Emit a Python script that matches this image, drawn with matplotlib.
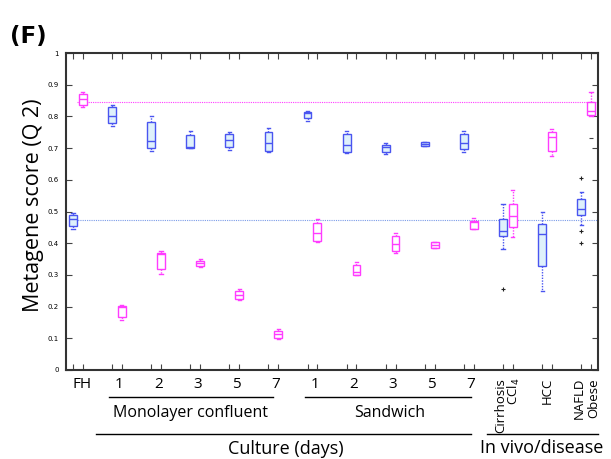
import matplotlib
matplotlib.use("Agg")
import matplotlib.pyplot as plt
from matplotlib.lines import Line2D

# ---- data ----
groups = ["FH", "M1", "M2", "M3", "M5", "M7", "S1", "S2", "S3", "S5", "S7", "Cirr", "HCC", "NAFLD"]
day_labels = ["1", "2", "3", "5", "7"]

blue_whislo = [0.445, 0.770, 0.691, 0.700, 0.694, 0.689, 0.787, 0.684, 0.680, 0.707, 0.689, 0.381, 0.250, 0.457]
blue_q1     = [0.455, 0.780, 0.700, 0.700, 0.702, 0.692, 0.794, 0.689, 0.687, 0.707, 0.696, 0.423, 0.328, 0.489]
blue_med    = [0.475, 0.802, 0.722, 0.702, 0.727, 0.715, 0.812, 0.709, 0.704, 0.714, 0.715, 0.439, 0.428, 0.508]
blue_q3     = [0.490, 0.829, 0.781, 0.740, 0.746, 0.750, 0.815, 0.743, 0.710, 0.720, 0.743, 0.476, 0.460, 0.539]
blue_whishi = [0.495, 0.836, 0.802, 0.753, 0.752, 0.762, 0.817, 0.755, 0.715, 0.720, 0.754, 0.523, 0.499, 0.562]
blue_fliers = [[], [], [], [], [], [], [], [], [], [], [], [0.255], [], [0.605, 0.438, 0.402]]

pink_whislo = [0.829, 0.158, 0.302, 0.325, 0.221, 0.099, 0.403, 0.300, 0.368, 0.385, 0.444, 0.419, 0.676, 0.800]
pink_q1     = [0.836, 0.168, 0.318, 0.327, 0.224, 0.102, 0.408, 0.300, 0.375, 0.385, 0.444, 0.450, 0.691, 0.804]
pink_med    = [0.854, 0.200, 0.365, 0.338, 0.237, 0.113, 0.431, 0.308, 0.396, 0.394, 0.468, 0.486, 0.734, 0.818]
pink_q3     = [0.870, 0.203, 0.370, 0.343, 0.249, 0.123, 0.465, 0.331, 0.423, 0.405, 0.471, 0.523, 0.752, 0.846]
pink_whishi = [0.877, 0.205, 0.375, 0.350, 0.255, 0.128, 0.477, 0.340, 0.431, 0.405, 0.479, 0.568, 0.759, 0.878]
pink_fliers = [[], [], [], [], [], [], [], [], [], [], [], [], [], [0.731]]

ref_pink = 0.846
ref_blue = 0.472

yticks = [0, 0.1, 0.2, 0.3, 0.4, 0.5, 0.6, 0.7, 0.8, 0.9, 1]
ytick_labels = ["0", "0.1", "0.2", "0.3", "0.4", "0.5", "0.6", "0.7", "0.8", "0.9", "1"]

BLUE = "#4a55f0"
BLUE_FILL = "#dff1fb"
PINK = "#ff3cff"

fig = plt.figure(figsize=(6.11, 4.59), dpi=100)
ax = fig.add_axes([66/611, 89/459, 532/611, 317/459])

n = len(groups)
off = 0.25
bpos = [i for i in range(n)]
ppos = [i + off for i in range(n)]

def stats(lo, q1, med, q3, hi, fl):
    return [dict(whislo=a, q1=b, med=c, q3=d, whishi=e, fliers=f)
            for a, b, c, d, e, f in zip(lo, q1, med, q3, hi, fl)]

bst = stats(blue_whislo, blue_q1, blue_med, blue_q3, blue_whishi, blue_fliers)
pst = stats(pink_whislo, pink_q1, pink_med, pink_q3, pink_whishi, pink_fliers)

ax.axhline(ref_pink, xmin=0.02, color=PINK, lw=0.8, ls=(0, (1, 1)), zorder=1)
ax.axhline(ref_blue, xmin=0.01, color="#7a9be8", lw=0.8, ls=(0, (1, 1)), zorder=1)

common = dict(widths=0.2, patch_artist=True, manage_ticks=False, showfliers=True)
ax.bxp(bst, positions=bpos,
       boxprops=dict(facecolor=BLUE_FILL, edgecolor=BLUE, lw=1.0),
       medianprops=dict(color=BLUE, lw=1.0),
       whiskerprops=dict(color=BLUE, lw=1.0, ls=(0, (1, 1))),
       capprops=dict(color=BLUE, lw=1.0),
       flierprops=dict(marker="+", markersize=3, markeredgecolor="#222222", mew=0.8),
       capwidths=0.08, **common)
ax.bxp(pst, positions=ppos,
       boxprops=dict(facecolor="white", edgecolor=PINK, lw=1.0),
       medianprops=dict(color=PINK, lw=1.0),
       whiskerprops=dict(color=PINK, lw=1.0, ls=(0, (1, 1))),
       capprops=dict(color=PINK, lw=1.0),
       flierprops=dict(marker="_", markersize=3, markeredgecolor="#444444", mew=0.8),
       capwidths=0.08, **common)

ax.set_xlim(-0.18, n - 1 + off + 0.18)
ax.set_ylim(0, 1)
ax.set_yticks(yticks)
ax.set_yticklabels(ytick_labels, fontsize=5)
ax.set_xticks(bpos + ppos)
ax.set_xticklabels([])
ax.tick_params(axis="both", direction="in", length=4, width=0.8, color="#444444",
               top=True, right=True, pad=5)
ax.tick_params(axis="y", pad=5)
for s in ax.spines.values():
    s.set_linewidth(1.5)
    s.set_color("#333333")

ax.set_ylabel("Metagene score (Q 2)", fontsize=15.5, family="Open Sans")
ax.yaxis.set_label_coords(-0.042, 0.52)
fig.text(10/611, 1 - 36/459, "(F)", fontsize=16.5, fontweight="bold", ha="left", va="center")

trans = ax.get_xaxis_transform()
lbl_kw = dict(transform=trans, ha="center", va="center", fontsize=11, family="Open Sans", clip_on=False)
ax.text(ppos[0] - 0.02, -0.045, "FH", **lbl_kw)
for k, d in enumerate(day_labels):
    ax.text(1 + k + 0.18, -0.045, d, **lbl_kw)
    ax.text(6 + k + 0.18, -0.045, d, **lbl_kw)

rot_kw = dict(transform=trans, ha="center", va="top", rotation=90, fontsize=9.5,
              family="Open Sans", clip_on=False)
ax.text(bpos[11] - 0.06, -0.025, "Cirrhosis", **rot_kw)
ax.text(ppos[11] + 0.04, -0.025, "CCl$_4$", **rot_kw)
ax.text(bpos[12] + 0.12, -0.025, "HCC", **rot_kw)
ax.text(bpos[13] - 0.06, -0.025, "NAFLD", **rot_kw)
ax.text(ppos[13] + 0.06, -0.025, "Obese", **rot_kw)

def hline(x0, x1, y):
    ax.add_line(Line2D([x0, x1], [y, y], transform=trans, color="black", lw=1.0, clip_on=False))

hline(0.93, 5.12, -0.084)
hline(6.0 - 0.07, 10.18, -0.084)
hline(0.58, 10.18, -0.203)
hline(10.6, 13.43, -0.203)

txt_kw = dict(transform=trans, ha="center", va="center", family="Open Sans", clip_on=False)
ax.text(3.0, -0.135, "Monolayer confluent", fontsize=11.5, **txt_kw)
ax.text(8.1, -0.135, "Sandwich", fontsize=11.5, **txt_kw)
ax.text(5.45, -0.25, "Culture (days)", fontsize=13, **txt_kw)
ax.text(12.0, -0.245, "In vivo/disease", fontsize=13, **txt_kw)

fig.savefig("out.png", dpi=100)
